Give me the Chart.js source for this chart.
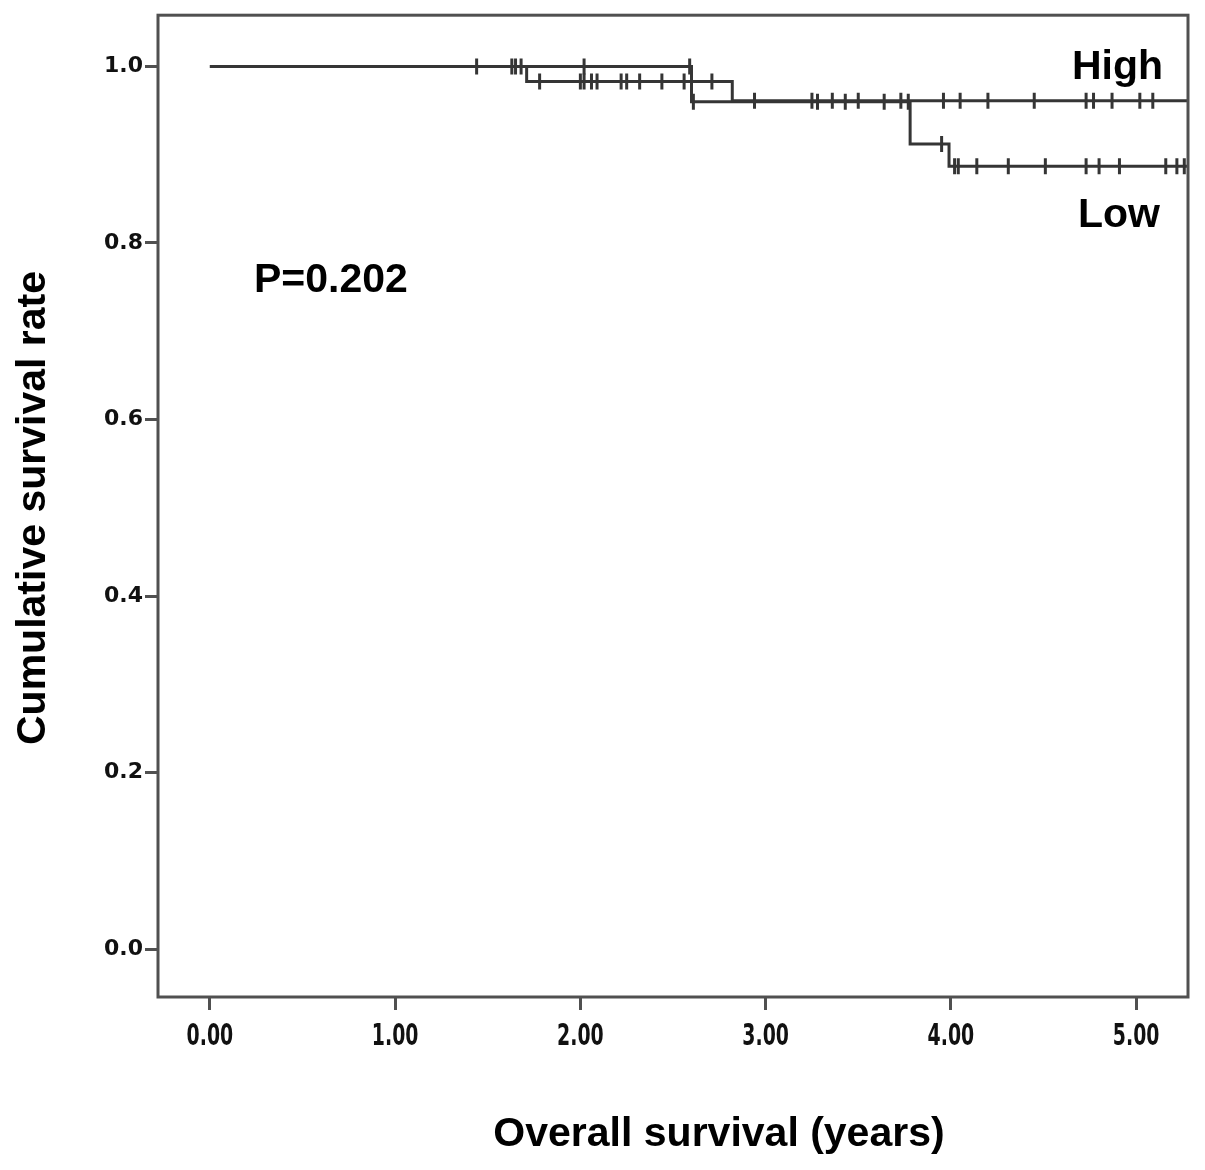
<!DOCTYPE html>
<html>
<head>
<meta charset="utf-8">
<script src="https://cdn.jsdelivr.net/npm/chart.js@4.4.1/dist/chart.umd.min.js"></script>
<style>
  html, body { margin: 0; padding: 0; background: #fff; }
  #wrap { width: 1205px; height: 1170px; position: relative; }
</style>
</head>
<body>
<div id="wrap"><canvas id="km"></canvas></div>
<script>
// Kaplan-Meier curves
const groups = ['High', 'Low'];

// event times (years) and survival after each step
const highTimes = [0, 1.71, 2.82, 5.40];
const highSurv  = [1.0, 0.983, 0.961, 0.961];
const lowTimes  = [0, 2.60, 3.78, 3.99, 5.40];
const lowSurv   = [1.0, 0.960, 0.912, 0.887, 0.887];

// censored observations (years)
const highCensor = [1.44, 1.65, 1.78, 2.00, 2.02, 2.06, 2.09, 2.22, 2.25, 2.32, 2.44, 2.56, 2.71,
                    2.94, 3.25, 3.36, 3.50, 3.73, 3.96, 4.05, 4.20, 4.45, 4.73, 4.77, 4.87, 5.02, 5.09];
const lowCensor  = [1.63, 1.68, 2.02, 2.59, 2.61, 3.28, 3.43, 3.64, 3.77, 3.95,
                    4.02, 4.04, 4.14, 4.31, 4.51, 4.73, 4.80, 4.91, 5.16, 5.22, 5.26];

const xTicks = [0, 1, 2, 3, 4, 5];
const yTicks = [0, 0.2, 0.4, 0.6, 0.8, 1.0];

const pLabel = 'P=0.202';
const xTitle = 'Overall survival (years)';
const yTitle = 'Cumulative survival rate';

const lineColor = '#353535';
const frameColor = '#505050';

// survival value of the step curve at time t
function survAt(times, surv, t) {
  let v = surv[0];
  for (let i = 0; i < times.length; i++) {
    if (times[i] <= t) v = surv[i];
  }
  return v;
}

function curvePoints(times, surv) {
  return times.map((t, i) => ({ x: t, y: surv[i] }));
}

function censorPoints(times, surv, cens) {
  return cens.map(t => ({ x: t, y: survAt(times, surv, t) }));
}

function stepDataset(label, data) {
  return {
    label: label,
    data: data,
    showLine: true,
    stepped: 'before',
    borderColor: lineColor,
    borderWidth: 3,
    pointRadius: 0,
    fill: false
  };
}

function censorDataset(label, data) {
  return {
    label: label + ' censored',
    data: data,
    showLine: false,
    pointStyle: 'line',
    rotation: 90,
    pointRadius: 8,
    pointHoverRadius: 8,
    borderColor: lineColor,
    borderWidth: 3,
    backgroundColor: lineColor
  };
}

// frame round the plot area, narrow x tick labels and the free text
const decorPlugin = {
  id: 'decor',
  afterDraw(chart) {
    const { ctx, chartArea } = chart;
    const xScale = chart.scales.x;
    ctx.save();
    ctx.strokeStyle = frameColor;
    ctx.lineWidth = 3;
    ctx.strokeRect(chartArea.left, chartArea.top,
                   chartArea.right - chartArea.left, chartArea.bottom - chartArea.top);

    // x tick labels: tall, condensed figures as in the original
    ctx.fillStyle = '#111';
    ctx.font = 'bold 30px "DejaVu Sans Condensed", "DejaVu Sans", sans-serif';
    ctx.textAlign = 'center';
    ctx.textBaseline = 'alphabetic';
    xTicks.forEach(v => {
      ctx.save();
      ctx.translate(xScale.getPixelForValue(v), 1045);
      ctx.scale(0.7, 1);
      ctx.fillText(v.toFixed(2), 0, 0);
      ctx.restore();
    });

    ctx.fillStyle = '#000';
    ctx.font = 'bold 41px "Liberation Sans", Arial, sans-serif';

    ctx.textAlign = 'left';
    ctx.fillText(pLabel, 254, 292);

    ctx.textAlign = 'right';
    ctx.fillText(groups[0], 1163, 79);
    ctx.fillText(groups[1], 1160, 227);

    ctx.textAlign = 'center';
    ctx.fillText(xTitle, 719, 1146);

    ctx.translate(45, 508);
    ctx.rotate(-Math.PI / 2);
    ctx.fillText(yTitle, 0, 0);
    ctx.restore();
  }
};

const ctx = document.getElementById('km').getContext('2d');

new Chart(ctx, {
  type: 'scatter',
  data: {
    datasets: [
      stepDataset(groups[0], curvePoints(highTimes, highSurv)),
      stepDataset(groups[1], curvePoints(lowTimes, lowSurv)),
      censorDataset(groups[0], censorPoints(highTimes, highSurv, highCensor)),
      censorDataset(groups[1], censorPoints(lowTimes, lowSurv, lowCensor))
    ]
  },
  options: {
    responsive: true,
    maintainAspectRatio: false,
    animation: false,
    layout: {
      padding: { left: 0, right: 17, top: 14, bottom: 0 }
    },
    plugins: {
      legend: { display: false },
      tooltip: { enabled: false }
    },
    scales: {
      x: {
        type: 'linear',
        min: -0.28,
        max: 5.28,
        afterBuildTicks: scale => { scale.ticks = xTicks.map(v => ({ value: v })); },
        afterFit: scale => { scale.height = 173; },
        border: { display: false },
        grid: {
          drawOnChartArea: false,
          drawTicks: true,
          tickLength: 13,
          tickWidth: 3,
          tickColor: frameColor
        },
        ticks: {
          // labels are drawn by the decor plugin
          color: 'rgba(0,0,0,0)',
          padding: 6,
          font: { size: 20 },
          callback: value => value.toFixed(2)
        }
      },
      y: {
        type: 'linear',
        min: -0.054,
        max: 1.058,
        afterBuildTicks: scale => { scale.ticks = yTicks.map(v => ({ value: v })); },
        afterFit: scale => { scale.width = 158; },
        border: { display: false },
        grid: {
          drawOnChartArea: false,
          drawTicks: true,
          tickLength: 13,
          tickWidth: 3,
          tickColor: frameColor
        },
        ticks: {
          color: '#111',
          padding: 2,
          font: { family: '"DejaVu Sans", sans-serif', size: 22, weight: 'bold' },
          callback: value => value.toFixed(1)
        }
      }
    }
  },
  plugins: [decorPlugin]
});
</script>
</body>
</html>
